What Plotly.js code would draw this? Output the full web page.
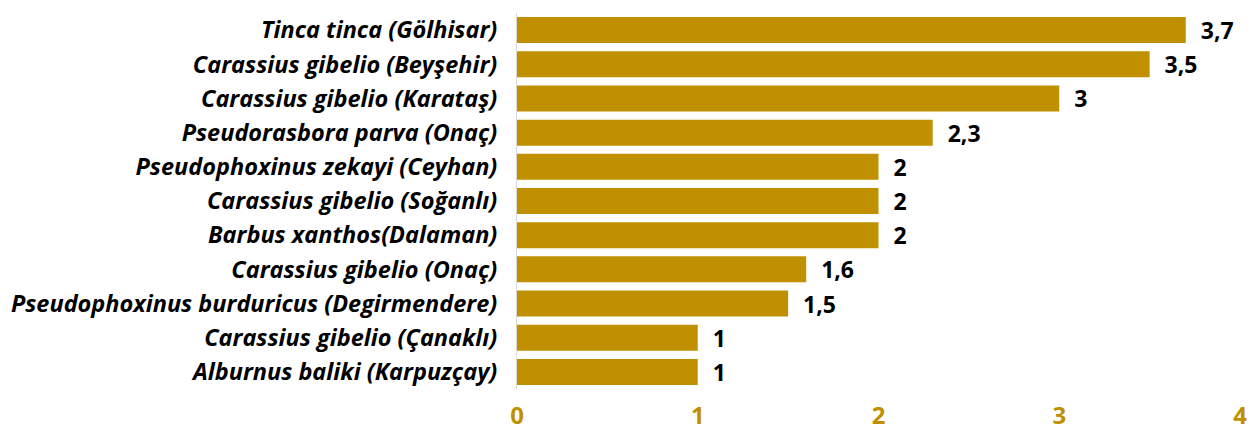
<!DOCTYPE html>
<html>
<head>
<meta charset="utf-8">
<script src="https://cdn.plot.ly/plotly-3.0.1.min.js"></script>
<style>html,body{margin:0;padding:0;background:#fff}#chart{width:1252px;height:432px}</style>
</head>
<body>
<div id="chart"></div>
<script>
const categories = [
  "Tinca tinca (Gölhisar)",
  "Carassius gibelio (Beyşehir)",
  "Carassius gibelio (Karataş)",
  "Pseudorasbora parva (Onaç)",
  "Pseudophoxinus zekayi (Ceyhan)",
  "Carassius gibelio (Soğanlı)",
  "Barbus xanthos(Dalaman)",
  "Carassius gibelio (Onaç)",
  "Pseudophoxinus burduricus (Degirmendere)",
  "Carassius gibelio (Çanaklı)",
  "Alburnus baliki (Karpuzçay)"
];
const values = [3.7, 3.5, 3, 2.3, 2, 2, 2, 1.6, 1.5, 1, 1];
const xTicks = [0, 1, 2, 3, 4];

const labels = values.map(v => "  " + String(v).replace(".", ","));
const gold = "#C09000";
const font = "'Open Sans', sans-serif";

Plotly.newPlot("chart", [{
  type: "bar",
  orientation: "h",
  y: categories,
  x: values,
  text: labels,
  textposition: "outside",
  constraintext: "none",
  cliponaxis: false,
  textfont: {family: font, size: 23, color: "#000", weight: "bold"},
  marker: {color: gold},
  hoverinfo: "none"
}], {
  width: 1252, height: 432,
  margin: {l: 517, r: 12, t: 13, b: 43},
  paper_bgcolor: "#fff", plot_bgcolor: "#fff",
  bargap: 0.24,
  showlegend: false,
  xaxis: {
    range: [0, 4], tickvals: xTicks, ticktext: xTicks.map(String),
    showgrid: false, zeroline: false, showline: false,
    tickfont: {family: font, size: 24, color: gold, weight: "bold"},
    ticks: "", ticklabelstandoff: 10
  },
  yaxis: {
    autorange: "reversed", type: "category",
    showgrid: false, zeroline: false,
    showline: true, linecolor: "#d9d9d9", linewidth: 1,
    ticks: "", ticklabelstandoff: 14,
    tickfont: {family: font, size: 23.5, color: "#000", weight: "bold", style: "italic"}
  }
}, {displayModeBar: false, staticPlot: true});
</script>
</body>
</html>
